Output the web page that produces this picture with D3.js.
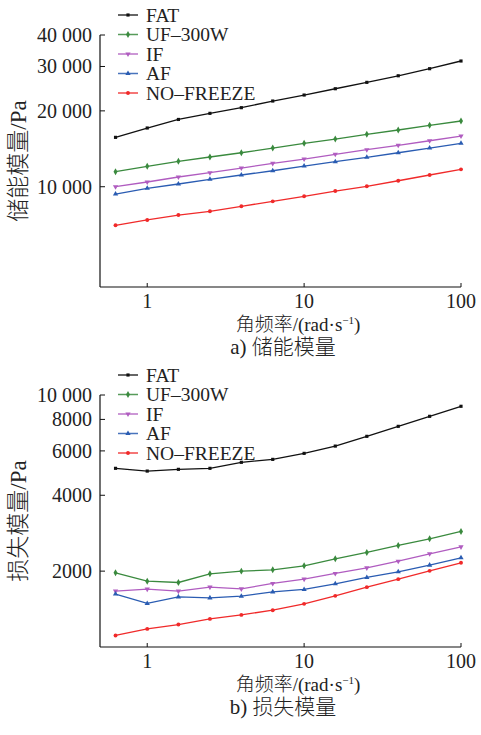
<!DOCTYPE html>
<html><head><meta charset="utf-8">
<script src="https://cdn.jsdelivr.net/npm/d3@7"></script>
<style>
html,body{margin:0;padding:0;background:#fff;}
svg{display:block;}
text{font-family:"Liberation Serif","Noto Sans CJK SC",serif;fill:#222;}
.cjk{font-family:"Noto Sans CJK SC",sans-serif;font-weight:300;}
</style></head>
<body>
<svg id="chart" width="481" height="735"></svg>
<script>
const freq = [0.628, 1, 1.58, 2.51, 3.98, 6.31, 10, 15.8, 25.1, 39.8, 63.1, 100];
const seriesNames = ["FAT", "UF\u2013300W", "IF", "AF", "NO\u2013FREEZE"];
const storageFAT = [15700, 17100, 18490, 19550, 20590, 21880, 23110, 24480, 25950, 27560, 29400, 31540];
const storageUF = [11470, 12050, 12610, 13120, 13640, 14240, 14870, 15460, 16140, 16790, 17530, 18230];
const storageIF = [10000, 10440, 10930, 11370, 11860, 12380, 12880, 13450, 14030, 14600, 15220, 15890];
const storageAF = [9355, 9855, 10250, 10700, 11130, 11570, 12080, 12570, 13080, 13640, 14240, 14870];
const storageNF = [7030, 7380, 7720, 7990, 8360, 8750, 9160, 9610, 10040, 10560, 11130, 11720];
const lossFAT = [5117, 4990, 5070, 5117, 5405, 5553, 5867, 6270, 6855, 7510, 8230, 9020];
const lossUF = [1969, 1825, 1803, 1951, 2000, 2024, 2099, 2238, 2373, 2530, 2687, 2875];
const lossIF = [1666, 1697, 1666, 1728, 1701, 1788, 1859, 1958, 2061, 2191, 2343, 2497];
const lossAF = [1622, 1489, 1581, 1566, 1591, 1655, 1692, 1781, 1888, 1987, 2113, 2259];
const lossNF = [1111, 1180, 1228, 1293, 1341, 1400, 1483, 1596, 1728, 1859, 2005, 2158];
const xTicks = [1, 10, 100];
const xTickLabels = ["1", "10", "100"];
const storageTicks = [10000, 20000, 30000, 40000];
const storageTickLabels = ["10 000", "20 000", "30 000", "40 000"];
const lossTicks = [2000, 4000, 6000, 8000, 10000];
const lossTickLabels = ["2000", "4000", "6000", "8000", "10 000"];

const colors = ["#111111", "#3a8a3e", "#b05cc0", "#2a5cb2", "#f02a2a"];
const shapes = [d3.symbolSquare, d3.symbolDiamond, "down", d3.symbolTriangle, d3.symbolCircle];
const sizes = [10, 14, 12, 12, 12];

const svg = d3.select("#chart");

function marker(g, i, x, y) {
  if (shapes[i] === "down") {
    g.append("path").attr("d", d3.symbol(d3.symbolTriangle, sizes[i])())
      .attr("transform", `translate(${x},${y}) rotate(180)`).attr("fill", colors[i]);
  } else {
    g.append("path").attr("d", d3.symbol(shapes[i], sizes[i])())
      .attr("transform", `translate(${x},${y})`).attr("fill", colors[i]);
  }
}

function panel(opts) {
  const g = svg.append("g");
  const x = d3.scaleLog().domain([0.5, 100]).range([100, 461]);
  const y = d3.scaleLog().domain(opts.domain).range([opts.bottom, opts.top]);
  g.append("line").attr("x1", 100).attr("x2", 100).attr("y1", y(opts.domain[1])).attr("y2", opts.bottom)
    .attr("stroke", "#111").attr("stroke-width", 1.2);
  g.append("line").attr("x1", 100).attr("x2", x(100)).attr("y1", opts.bottom).attr("y2", opts.bottom)
    .attr("stroke", "#111").attr("stroke-width", 1.2);
  opts.ticks.forEach((t, i) => {
    g.append("line").attr("x1", 100).attr("x2", 105).attr("y1", y(t)).attr("y2", y(t)).attr("stroke", "#111").attr("stroke-width", 1);
    g.append("text").attr("x", 92).attr("y", y(t)).attr("dy", "0.35em").attr("text-anchor", "end")
      .attr("font-size", 20).text(opts.tickLabels[i]);
  });
  xTicks.forEach((t, i) => {
    g.append("line").attr("x1", x(t)).attr("x2", x(t)).attr("y1", opts.bottom).attr("y2", opts.bottom - 4).attr("stroke", "#111").attr("stroke-width", 1);
    g.append("text").attr("x", x(t)).attr("y", opts.bottom + 21).attr("text-anchor", "middle")
      .attr("font-size", 20).text(xTickLabels[i]);
  });
  const xt = g.append("text").attr("x", 298).attr("y", opts.bottom + 44).attr("text-anchor", "middle").attr("font-size", 19);
  xt.append("tspan").attr("class", "cjk").text("角频率");
  xt.append("tspan").text("/(rad·s");
  xt.append("tspan").attr("font-size", 11).attr("dy", -7).text("\u22121");
  xt.append("tspan").attr("dy", 7).text(")");
  const cap = g.append("text").attr("x", 283).attr("y", opts.bottom + 67).attr("text-anchor", "middle").attr("font-size", 21);
  cap.append("tspan").text(opts.captionPrefix);
  cap.append("tspan").attr("class", "cjk").text(opts.caption);
  const cy = (opts.top + opts.bottom) / 2;
  const yt = g.append("text").attr("transform", `translate(26,${cy}) rotate(-90)`).attr("text-anchor", "middle")
    .attr("font-size", 23);
  yt.append("tspan").attr("class", "cjk").text(opts.ytitle);
  yt.append("tspan").text("/Pa");
  const line = d3.line().x((d, i) => x(freq[i])).y(d => y(d));
  opts.series.forEach((s, i) => {
    g.append("path").attr("d", line(s)).attr("fill", "none").attr("stroke", colors[i]).attr("stroke-width", 1.3);
    s.forEach((v, j) => marker(g, i, x(freq[j]), y(v)));
  });
  seriesNames.forEach((n, i) => {
    const ly = opts.legendTop + i * 19.5;
    g.append("line").attr("x1", 118).attr("x2", 138).attr("y1", ly).attr("y2", ly).attr("stroke", colors[i]).attr("stroke-width", 1.5).attr("opacity", 0.85);
    marker(g, i, 128, ly);
    g.append("text").attr("x", 146).attr("y", ly).attr("dy", "0.34em").attr("font-size", 19.5).text(n);
  });
}

panel({
  domain: [4000, 40000], top: 35, bottom: 287,
  ticks: storageTicks, tickLabels: storageTickLabels,
  series: [storageFAT, storageUF, storageIF, storageAF, storageNF],
  captionPrefix: "a) ", caption: "储能模量", ytitle: "储能模量", legendTop: 15
});
panel({
  domain: [1000, 10000], top: 395, bottom: 647,
  ticks: lossTicks, tickLabels: lossTickLabels,
  series: [lossFAT, lossUF, lossIF, lossAF, lossNF],
  captionPrefix: "b) ", caption: "损失模量", ytitle: "损失模量", legendTop: 375
});
</script>
</body></html>
